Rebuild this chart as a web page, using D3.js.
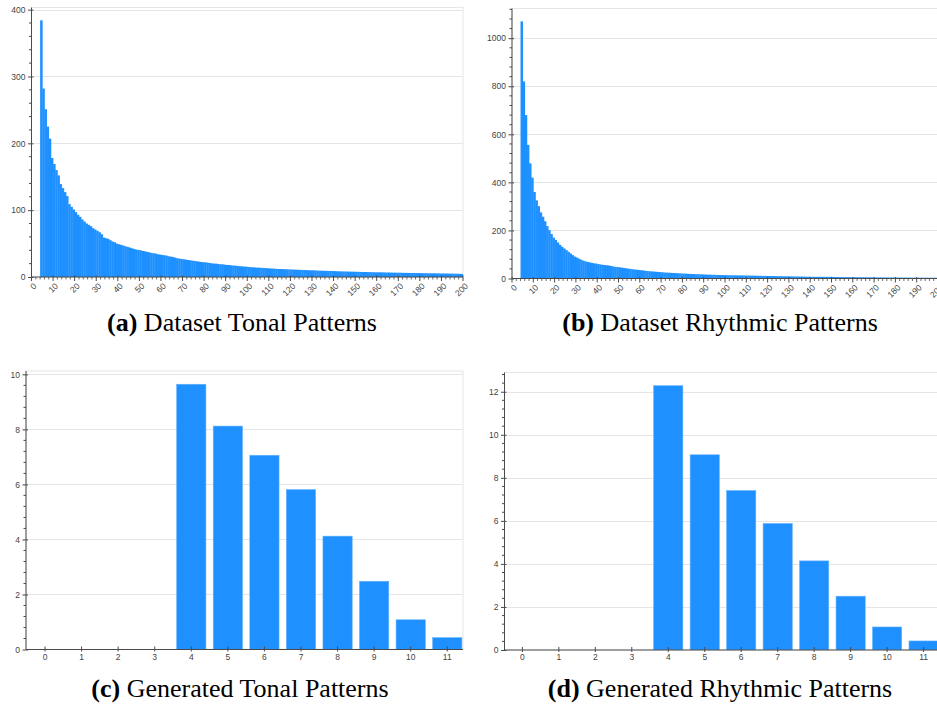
<!DOCTYPE html>
<html><head><meta charset="utf-8">
<script src="https://cdn.jsdelivr.net/npm/d3@7"></script>
<style>
html,body{margin:0;padding:0;background:#fff;}
svg{display:block;}
</style></head><body>
<svg id="chart" width="937" height="704"></svg>
<script>
// ---------- DATA ----------
const datasetFirstLength = 4;            // first pattern length with data
const tonalCounts = [
 384, 282, 251, 225, 207, 178, 169, 160, 152, 139,
 133, 127, 121, 109, 105, 101, 97, 93, 90, 86,
 83, 80, 78, 76, 73, 71, 69, 67, 64, 59,
 58, 57, 55, 53, 52, 50, 49, 48, 47, 46,
 45, 44, 43, 42, 41, 40.5, 40, 39, 38.5, 37.5,
 37, 36, 35.5, 35, 34, 33.5, 33, 32.5, 32, 31,
 30.5, 30, 29, 28, 27.5, 27, 26.5, 26, 25.5, 25,
 24.5, 24, 23.5, 23, 22.5, 22, 22, 21.5, 21, 20.5,
 20, 20, 19.5, 19, 19, 18.5, 18, 18, 17.5, 17,
 17, 16.5, 16, 16, 15.5, 15.5, 15, 14.8, 14.5, 14.3,
 14, 14, 13.7, 13.5, 13.3, 13, 12.8, 12.6, 12.4, 12.2,
 12, 12, 11.8, 11.6, 11.5, 11.3, 11.2, 11, 11, 10.8,
 10.7, 10.5, 10.4, 10.3, 10.1, 10, 10, 9.8, 9.6, 9.5,
 9.4, 9.3, 9.2, 9.1, 9, 9, 8.8, 8.6, 8.5, 8.4,
 8.3, 8.2, 8.1, 8, 8, 7.9, 7.8, 7.7, 7.6, 7.5,
 7.5, 7.4, 7.3, 7.2, 7.1, 7, 7, 7, 6.9, 6.8,
 6.7, 6.7, 6.6, 6.5, 6.5, 6.4, 6.4, 6.3, 6.2, 6.2,
 6.1, 6, 6, 6, 5.9, 5.8, 5.8, 5.7, 5.7, 5.6,
 5.5, 5.5, 5.5, 5.4, 5.4, 5.3, 5.3, 5.2, 5.2, 5.1,
 5, 5, 4.9, 4.8, 4.7, 4.6
];
const rhythmCounts = [
 1070, 820, 680, 556, 479, 420, 360, 325, 301, 275,
 257, 238, 218, 201, 185, 170, 160, 150, 140, 132,
 125, 118, 111, 104, 97, 91, 87, 82, 78, 74,
 71, 69, 67, 65, 63, 62, 60, 58.5, 57, 56,
 55, 54, 52, 50, 48.5, 47.5, 46.5, 45, 44, 42.5,
 41, 40, 38.5, 37.5, 36.5, 35.5, 34.5, 33.5, 32.5, 31,
 30, 29.5, 29, 28, 27.5, 26.5, 26, 25, 24.5, 24,
 23.5, 23, 22.5, 22, 21.5, 21, 20.5, 20, 19.5, 19,
 18.7, 18.4, 18, 17.7, 17.3, 17, 16.6, 16.3, 16, 15.6,
 15.3, 15, 14.7, 14.5, 14.2, 14, 13.8, 13.6, 13.5, 13.3,
 13.1, 13, 12.8, 12.7, 12.6, 12.5, 12.3, 12.1, 12, 11.8,
 11.6, 11.4, 11.2, 11, 10.8, 10.7, 10.5, 10.3, 10.2, 10,
 9.8, 9.7, 9.5, 9.3, 9.1, 9, 8.8, 8.6, 8.4, 8.3,
 8.1, 8, 7.8, 7.6, 7.4, 7.3, 7.1, 7, 7, 7,
 7, 6.9, 6.9, 6.9, 6.8, 6.7, 6.5, 6.3, 6.1, 5.9,
 5.7, 5.6, 5.5, 5.5, 5.4, 5.4, 5.3, 5.3, 5.2, 5.2,
 5.1, 5, 4.9, 4.8, 4.7, 4.6, 4.5, 4.5, 4.4, 4.3,
 4.2, 4.1, 4.1, 4, 4, 3.9, 3.9, 3.8, 3.7, 3.6,
 3.6, 3.5, 3.5, 3.4, 3.4, 3.3, 3.3, 3.2, 3.2, 3.1,
 3.1, 3, 3, 3, 2.9, 2.9
];
const genCategories = [0, 1, 2, 3, 4, 5, 6, 7, 8, 9, 10, 11];
const genTonal  = [0, 0, 0, 0, 9.64, 8.12, 7.06, 5.81, 4.12, 2.48, 1.08, 0.43];
const genRhythm = [0, 0, 0, 0, 12.28, 9.07, 7.41, 5.88, 4.14, 2.50, 1.07, 0.42];
const datasetXTicks = [0,10,20,30,40,50,60,70,80,90,100,110,120,130,140,150,160,170,180,190,200];
const tonalYTicks = [0, 100, 200, 300, 400];
const rhythmYTicks = [0, 200, 400, 600, 800, 1000];
const genTonalYTicks = [0, 2, 4, 6, 8, 10];
const genRhythmYTicks = [0, 2, 4, 6, 8, 10, 12];
const captionLabels = ["(a)", "(b)", "(c)", "(d)"];
const captionTexts = ["Dataset Tonal Patterns", "Dataset Rhythmic Patterns",
                      "Generated Tonal Patterns", "Generated Rhythmic Patterns"];

// ---------- DRAWING ----------
const BAR = "#1E90FF", GRID = "#e6e6e6", AXIS = "#4a4a4a", LABEL = "#444";
const svg = d3.select("#chart");
let clipId = 0;

function drawPanel(p) {
  const g = svg.append("g");
  const y = d3.scaleLinear().domain([0, p.ymax]).range([p.bottom, p.top]);
  const x = d3.scaleLinear().domain(p.xdomain).range([p.left, p.right]);

  // outline
  g.append("rect").attr("x", p.left).attr("y", p.top)
    .attr("width", p.right - p.left).attr("height", p.bottom - p.top)
    .attr("fill", "none").attr("stroke", GRID).attr("stroke-width", 1);
  // grid
  g.selectAll(".grid").data(p.yticks.filter(d => d > 0)).enter().append("line")
    .attr("x1", p.left).attr("x2", p.right)
    .attr("y1", d => Math.round(y(d)) + 0.5).attr("y2", d => Math.round(y(d)) + 0.5)
    .attr("stroke", GRID).attr("stroke-width", 1);

  // bars
  const cid = "clip" + (clipId++);
  svg.append("clipPath").attr("id", cid).append("rect")
    .attr("x", p.left).attr("y", p.top).attr("width", p.right - p.left).attr("height", p.bottom - p.top);
  const bg = g.append("g").attr("clip-path", `url(#${cid})`);
  if (p.kind === "hist") {
    bg.selectAll("rect").data(p.values).enter().append("rect")
      .attr("x", (d, i) => x(p.start + i))
      .attr("width", (d, i) => x(p.start + i + 1) - x(p.start + i) + 0.35)
      .attr("y", d => y(d)).attr("height", d => p.bottom - y(d))
      .attr("fill", BAR);
  } else {
    bg.selectAll("rect").data(p.values).enter().append("rect")
      .attr("x", (d, i) => x(p.cats[i] - 0.4))
      .attr("width", x(0.8) - x(0))
      .attr("y", d => y(d)).attr("height", d => p.bottom - y(d))
      .attr("fill", BAR).attr("stroke", "#64b1ff").attr("stroke-width", 0.6)
      .attr("opacity", d => d > 0 ? 1 : 0);
  }

  // y axis minor ticks
  const yMinor = d3.range(0, p.ymax + 1e-9, p.yminor).filter(v => !p.yticks.some(t => Math.abs(t - v) < 1e-9));
  g.selectAll(".yminor").data(yMinor).enter().append("line")
    .attr("x1", p.left - 2.5).attr("x2", p.left)
    .attr("y1", d => y(d)).attr("y2", d => y(d))
    .attr("stroke", AXIS).attr("stroke-width", 1);
  // y axis major
  const yAxis = g.append("g").attr("transform", `translate(${p.left},0)`)
    .call(d3.axisLeft(y).tickValues(p.yticks).tickFormat(d3.format("d"))
      .tickSize(3.5).tickSizeOuter(0).tickPadding(2.5));
  yAxis.select(".domain").remove();
  yAxis.selectAll(".tick line").attr("x2", -3.5).attr("x1", 2).attr("stroke", AXIS);
  yAxis.selectAll(".tick text").attr("fill", LABEL)
    .style("font-family", "'Liberation Sans', Arial, sans-serif").style("font-size", "8.5px");
  g.append("line").attr("x1", p.left).attr("x2", p.left).attr("y1", p.top).attr("y2", p.bottom)
    .attr("stroke", AXIS).attr("stroke-width", 1);

  // x axis
  g.append("line").attr("x1", p.left).attr("x2", p.right).attr("y1", p.bottom).attr("y2", p.bottom)
    .attr("stroke", AXIS).attr("stroke-width", 1);
  if (p.kind === "hist") {
    const xMinor = d3.range(p.xdomain[0], p.xdomain[1] + 1e-9, 2).filter(v => v % 10 !== 0);
    g.selectAll(".xminor").data(xMinor).enter().append("line")
      .attr("x1", d => x(d)).attr("x2", d => x(d))
      .attr("y1", p.bottom).attr("y2", p.bottom + 2.5)
      .attr("stroke", AXIS).attr("stroke-width", 0.8);
    const ax = g.append("g");
    ax.selectAll("line").data(p.xticks).enter().append("line")
      .attr("x1", d => x(d)).attr("x2", d => x(d))
      .attr("y1", p.bottom - 1.5).attr("y2", p.bottom + 4)
      .attr("stroke", AXIS).attr("stroke-width", 1);
    ax.selectAll("text").data(p.xticks).enter().append("text")
      .attr("transform", d => `translate(${x(d) + 2},${p.bottom + 6}) rotate(-45)`)
      .attr("text-anchor", "end").attr("dy", "0.6em")
      .attr("fill", LABEL)
      .style("font-family", "'Liberation Sans', Arial, sans-serif").style("font-size", "8.5px")
      .text(d => d);
  } else {
    const ax = g.append("g");
    ax.selectAll("line").data(p.cats).enter().append("line")
      .attr("x1", d => x(d)).attr("x2", d => x(d))
      .attr("y1", p.bottom - 3).attr("y2", p.bottom + 2)
      .attr("stroke", AXIS).attr("stroke-width", 1);
    ax.selectAll("text").data(p.cats).enter().append("text")
      .attr("x", d => x(d)).attr("y", p.bottom + 7.5).attr("dy", "0.35em")
      .attr("text-anchor", "middle").attr("fill", LABEL)
      .style("font-family", "'Liberation Sans', Arial, sans-serif").style("font-size", "8.5px")
      .text(d => d);
  }
}

drawPanel({kind: "hist", start: datasetFirstLength, values: tonalCounts,
  left: 31.5, right: 463, top: 7.5, bottom: 277, xdomain: [0, 200],
  ymax: d3.max(tonalCounts) * 1.05, yticks: tonalYTicks, yminor: 20, xticks: datasetXTicks});
drawPanel({kind: "hist", start: datasetFirstLength, values: rhythmCounts,
  left: 512, right: 938, top: 8.5, bottom: 278.5, xdomain: [0, 200],
  ymax: d3.max(rhythmCounts) * 1.05, yticks: rhythmYTicks, yminor: 40, xticks: datasetXTicks});
drawPanel({kind: "bar", cats: genCategories, values: genTonal,
  left: 26, right: 463, top: 371, bottom: 649.5, xdomain: [-0.52, 11.43],
  ymax: d3.max(genTonal) * 1.05, yticks: genTonalYTicks, yminor: 0.4});
drawPanel({kind: "bar", cats: genCategories, values: genRhythm,
  left: 504.5, right: 940, top: 372.5, bottom: 650, xdomain: [-0.49, 11.45],
  ymax: d3.max(genRhythm) * 1.05, yticks: genRhythmYTicks, yminor: 0.4});

// captions
const capPos = [[242, 331], [720, 331], [240, 697], [720, 697]];
captionTexts.forEach((t, i) => {
  const txt = svg.append("text").attr("x", capPos[i][0]).attr("y", capPos[i][1])
    .attr("text-anchor", "middle").attr("fill", "#000")
    .style("font-family", "'Liberation Serif', 'Times New Roman', serif").style("font-size", "26px");
  txt.append("tspan").style("font-weight", "bold").text(captionLabels[i]);
  txt.append("tspan").text(" " + t);
});
</script>
</body></html>
